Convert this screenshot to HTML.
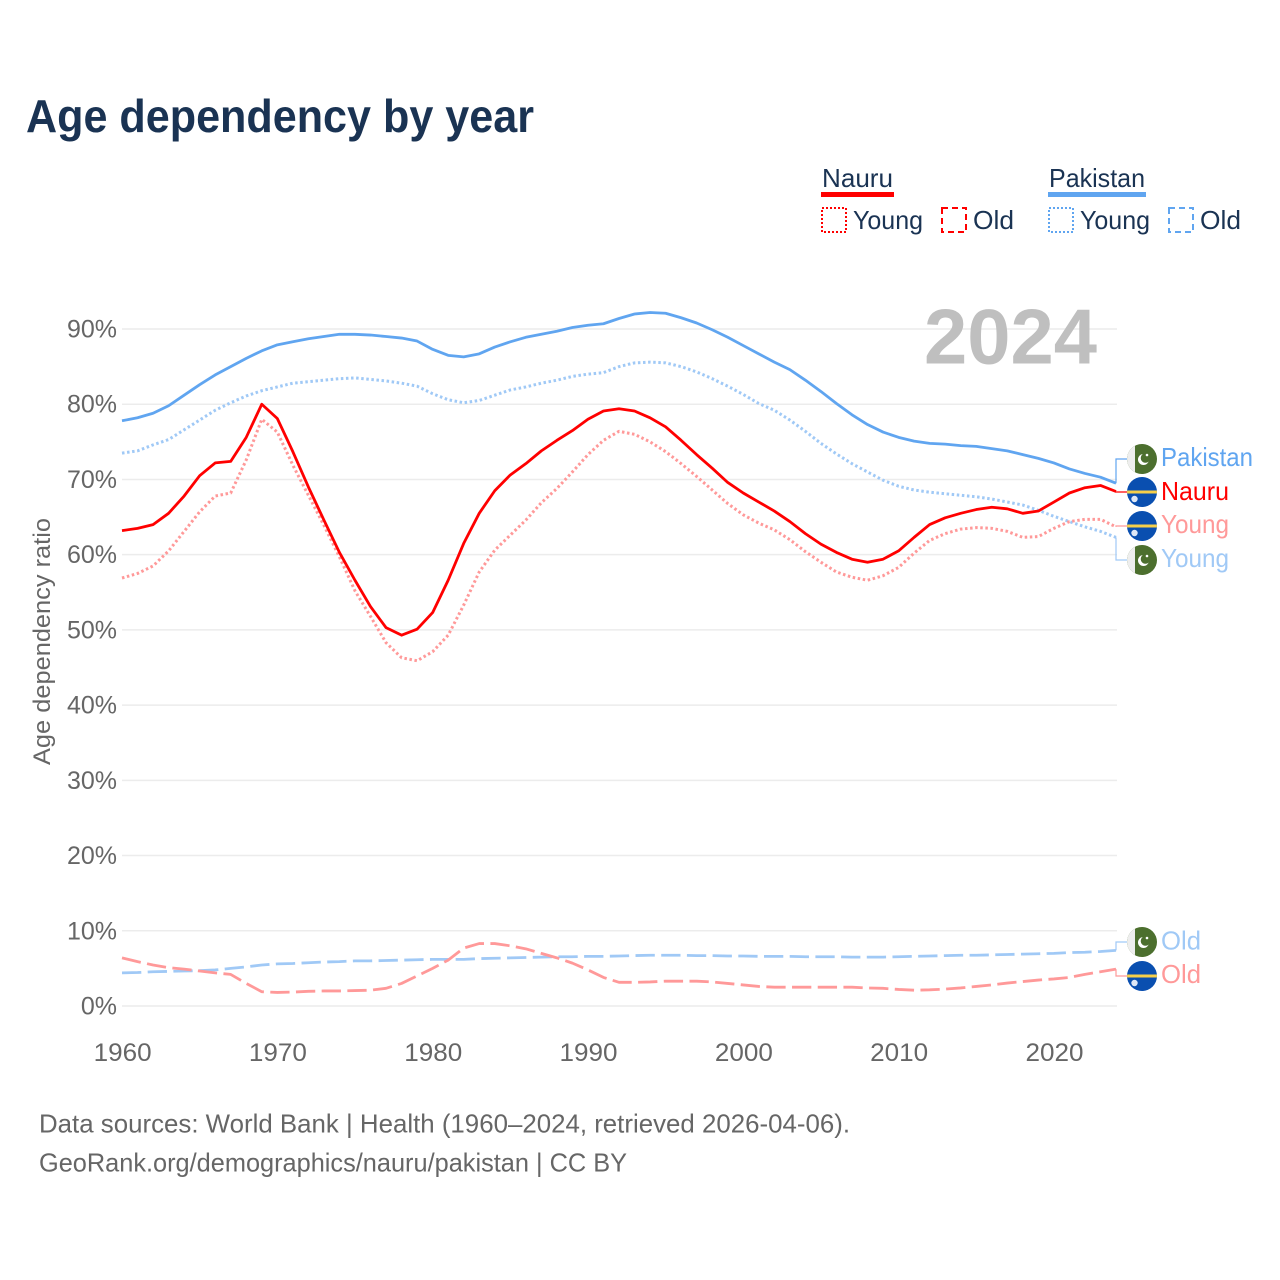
<!DOCTYPE html>
<html lang="en">
<head>
<meta charset="utf-8">
<title>Age dependency by year</title>
<style>
html,body{margin:0;padding:0;background:#fff;}
svg{display:block;font-family:"Liberation Sans",sans-serif;}
</style>
</head>
<body>
<svg id="chart" xmlns="http://www.w3.org/2000/svg" width="1280" height="1280" viewBox="0 0 1280 1280">
  <defs>
    <clipPath id="flag-clip"><circle cx="0" cy="0" r="15"/></clipPath>
    <g id="flag-pk" clip-path="url(#flag-clip)">
      <rect x="-15" y="-15" width="30" height="30" fill="#4c6f2e"/>
      <rect x="-15" y="-15" width="8" height="30" fill="#eeeeee"/>
      <circle cx="1.5" cy="0.5" r="5.5" fill="#ffffff"/>
      <circle cx="3.5" cy="-1" r="4.8" fill="#4c6f2e"/>
      <circle cx="5" cy="-4" r="1.3" fill="#ffffff"/>
    </g>
    <g id="flag-nr" clip-path="url(#flag-clip)">
      <rect x="-15" y="-15" width="30" height="30" fill="#0a4fb0"/>
      <rect x="-15" y="-1.5" width="30" height="3" fill="#f5cf4a"/>
      <circle cx="-7.5" cy="7" r="3.2" fill="#dfe8f6"/>
    </g>
  </defs>

  <text x="26" y="132" font-size="46" font-weight="700" fill="#1a3353" textLength="508" lengthAdjust="spacingAndGlyphs">Age dependency by year</text>

  <g font-size="26" fill="#1a3353">
    <text x="822" y="187" textLength="71" lengthAdjust="spacingAndGlyphs">Nauru</text>
    <rect x="821" y="192" width="73" height="5" fill="#ff0000"/>
    <text x="1049" y="187" textLength="96" lengthAdjust="spacingAndGlyphs">Pakistan</text>
    <rect x="1048" y="192" width="98" height="5" fill="#60a5f0"/>
    <rect x="822" y="208" width="24" height="24" fill="none" stroke="#ff0000" stroke-width="2" stroke-dasharray="2 2"/>
    <text x="853" y="229" textLength="70" lengthAdjust="spacingAndGlyphs">Young</text>
    <rect x="942" y="208" width="24" height="24" fill="none" stroke="#ff0000" stroke-width="2" stroke-dasharray="6 4"/>
    <text x="973" y="229" textLength="41" lengthAdjust="spacingAndGlyphs">Old</text>
    <rect x="1049" y="208" width="24" height="24" fill="none" stroke="#60a5f0" stroke-width="2" stroke-dasharray="2 2"/>
    <text x="1080" y="229" textLength="70" lengthAdjust="spacingAndGlyphs">Young</text>
    <rect x="1169" y="208" width="24" height="24" fill="none" stroke="#60a5f0" stroke-width="2" stroke-dasharray="6 4"/>
    <text x="1200" y="229" textLength="41" lengthAdjust="spacingAndGlyphs">Old</text>
  </g>

  <g id="grid"></g>
  <text x="924" y="363.5" font-size="78" font-weight="700" fill="#bfbfbf" textLength="173" lengthAdjust="spacingAndGlyphs">2024</text>
  <g id="y-ticks" font-size="25" fill="#666666" text-anchor="end"></g>
  <g id="x-ticks" font-size="25" fill="#666666" text-anchor="middle"></g>
  <text transform="translate(50,765) rotate(-90)" font-size="24" fill="#666666" textLength="247" lengthAdjust="spacingAndGlyphs">Age dependency ratio</text>

  <g id="series"></g>
  <g id="connectors"></g>

  <g font-size="26">
    <use href="#flag-pk" x="1142" y="459"/>
    <use href="#flag-nr" x="1142" y="492"/>
    <use href="#flag-nr" x="1142" y="526"/>
    <use href="#flag-pk" x="1142" y="560"/>
    <use href="#flag-pk" x="1142" y="942"/>
    <use href="#flag-nr" x="1142" y="976"/>
    <text x="1161" y="466" fill="#60a5f0" textLength="92" lengthAdjust="spacingAndGlyphs">Pakistan</text>
    <text x="1161" y="500" fill="#ff0000" textLength="68" lengthAdjust="spacingAndGlyphs">Nauru</text>
    <text x="1161" y="533" fill="#ff9999" textLength="68" lengthAdjust="spacingAndGlyphs">Young</text>
    <text x="1161" y="567" fill="#a0c9f6" textLength="68" lengthAdjust="spacingAndGlyphs">Young</text>
    <text x="1161" y="949.5" fill="#a0c9f6" textLength="40" lengthAdjust="spacingAndGlyphs">Old</text>
    <text x="1161" y="983" fill="#ff9999" textLength="40" lengthAdjust="spacingAndGlyphs">Old</text>
  </g>

  <text x="39" y="1132.5" font-size="26" fill="#666666" textLength="811" lengthAdjust="spacingAndGlyphs">Data sources: World Bank | Health (1960–2024, retrieved 2026-04-06).</text>
  <text x="39" y="1171.5" font-size="26" fill="#666666" textLength="588" lengthAdjust="spacingAndGlyphs">GeoRank.org/demographics/nauru/pakistan | CC BY</text>
</svg>
<script>
var firstYear = 1960;
var lastYear = 2024;
var yTickValues = [0, 10, 20, 30, 40, 50, 60, 70, 80, 90];
var xTickValues = [1960, 1970, 1980, 1990, 2000, 2010, 2020];

var pakistanTotal = [
  77.8,78.2,78.8,79.8,81.2,82.6,83.9,85.0,86.1,87.1,
  87.9,88.3,88.7,89.0,89.3,89.3,89.2,89.0,88.8,88.4,
  87.3,86.5,86.3,86.7,87.6,88.3,88.9,89.3,89.7,90.2,
  90.5,90.7,91.4,92.0,92.2,92.1,91.5,90.8,89.9,88.9,
  87.8,86.7,85.6,84.6,83.2,81.7,80.1,78.6,77.3,76.3,
  75.6,75.1,74.8,74.7,74.5,74.4,74.1,73.8,73.3,72.8,
  72.2,71.4,70.8,70.3,69.5];
var pakistanYoung = [
  73.5,73.8,74.6,75.3,76.6,77.9,79.2,80.2,81.1,81.8,
  82.3,82.8,83.0,83.2,83.4,83.5,83.3,83.1,82.8,82.4,
  81.4,80.6,80.2,80.5,81.2,81.9,82.3,82.8,83.2,83.7,
  84.0,84.2,85.0,85.5,85.6,85.5,85.0,84.3,83.4,82.4,
  81.3,80.1,79.2,77.9,76.4,74.8,73.4,72.1,71.0,69.9,
  69.1,68.6,68.3,68.1,67.9,67.7,67.4,67.0,66.6,65.9,
  65.1,64.4,63.7,63.1,62.3];
var pakistanOld = [
  4.4,4.45,4.55,4.6,4.65,4.7,4.8,5.0,5.2,5.45,
  5.6,5.65,5.75,5.85,5.9,6.0,6.0,6.05,6.1,6.15,
  6.2,6.2,6.2,6.3,6.35,6.4,6.45,6.5,6.55,6.55,
  6.6,6.6,6.65,6.7,6.75,6.75,6.75,6.7,6.7,6.65,
  6.65,6.6,6.6,6.6,6.55,6.55,6.55,6.5,6.5,6.5,
  6.55,6.6,6.65,6.7,6.75,6.75,6.8,6.85,6.9,6.95,
  7.0,7.1,7.15,7.25,7.4];
var nauruTotal = [
  63.2,63.5,64.0,65.5,67.8,70.5,72.2,72.4,75.6,80.0,
  78.1,73.7,69.0,64.6,60.3,56.6,53.1,50.3,49.3,50.1,
  52.3,56.6,61.5,65.5,68.5,70.6,72.1,73.8,75.2,76.5,
  78.0,79.1,79.4,79.1,78.2,77.0,75.2,73.3,71.5,69.6,
  68.2,67.0,65.8,64.4,62.8,61.4,60.3,59.4,59.0,59.4,
  60.5,62.3,64.0,64.9,65.5,66.0,66.3,66.1,65.5,65.8,
  67.0,68.2,68.9,69.2,68.4];
var nauruYoung = [
  56.9,57.5,58.5,60.5,63.1,65.7,67.8,68.2,72.6,78.0,
  76.3,71.9,67.9,63.9,59.7,55.2,51.8,48.3,46.3,45.9,
  47.1,49.3,53.3,57.7,60.6,62.6,64.6,66.9,68.8,71.0,
  73.3,75.2,76.4,76.0,75.0,73.7,72.1,70.4,68.6,66.8,
  65.3,64.2,63.3,62.0,60.4,59.0,57.7,57.0,56.6,57.2,
  58.3,60.2,61.9,62.8,63.4,63.6,63.5,63.1,62.3,62.4,
  63.5,64.4,64.7,64.7,63.7];
var nauruOld = [
  6.4,5.9,5.45,5.1,4.9,4.65,4.4,4.2,3.0,1.9,
  1.8,1.85,1.95,2.0,2.0,2.05,2.1,2.35,3.0,4.0,
  5.0,6.1,7.7,8.3,8.3,8.0,7.6,7.0,6.4,5.7,
  4.8,3.8,3.15,3.15,3.2,3.3,3.3,3.3,3.2,3.0,
  2.8,2.6,2.5,2.5,2.5,2.5,2.5,2.5,2.4,2.35,
  2.2,2.1,2.15,2.25,2.4,2.6,2.8,3.05,3.25,3.45,
  3.6,3.8,4.2,4.55,4.9];

var NS = 'http://www.w3.org/2000/svg';
function xScale(year) { return 122 + (year - firstYear) * (1116 - 122) / (lastYear - firstYear); }
function yScale(pct) { return 1006 - pct * 7.522; }

var gridGroup = document.getElementById('grid');
var yGroup = document.getElementById('y-ticks');
yTickValues.forEach(function (v) {
  var line = document.createElementNS(NS, 'line');
  
  
  line.setAttribute('x1', 122);
  line.setAttribute('x2', 1117);
  line.setAttribute('y1', yScale(v));
  line.setAttribute('y2', yScale(v));
  line.setAttribute('stroke', '#ececec');
  line.setAttribute('stroke-width', 1.5);
  gridGroup.appendChild(line);
  var label = document.createElementNS(NS, 'text');
  
  
  label.setAttribute('x', 117);
  label.setAttribute('y', yScale(v) + 8.5);
  label.textContent = v + '%';
  yGroup.appendChild(label);
});

var xGroup = document.getElementById('x-ticks');
xTickValues.forEach(function (year) {
  var label = document.createElementNS(NS, 'text');
  
  
  label.setAttribute('x', xScale(year) + 0.6);
  label.setAttribute('y', 1061);
  label.setAttribute('textLength', 58);
  label.setAttribute('lengthAdjust', 'spacingAndGlyphs');
  label.textContent = year;
  xGroup.appendChild(label);
});

var seriesGroup = document.getElementById('series');
function drawLine(values, name, color, dash, width) {
  var pts = values.map(function (v, i) {
    return xScale(firstYear + i).toFixed(2) + ',' + yScale(v).toFixed(2);
  }).join(' ');
  var line = document.createElementNS(NS, 'polyline');
  
  
  line.setAttribute('points', pts);
  line.setAttribute('fill', 'none');
  line.setAttribute('stroke', color);
  line.setAttribute('stroke-width', width);
  line.setAttribute('stroke-linejoin', 'round');
  if (dash) { line.setAttribute('stroke-dasharray', dash); }
  seriesGroup.appendChild(line);
}
drawLine(pakistanOld, 'line-pakistan-old', '#a0c9f6', '19.3 6.4', 2.8);
drawLine(nauruOld, 'line-nauru-old', '#ff9999', '19.3 6.4', 2.8);
drawLine(pakistanYoung, 'line-pakistan-young', '#a0c9f6', '2.5 2.6', 3);
drawLine(nauruYoung, 'line-nauru-young', '#ff9999', '2.5 2.6', 3);
drawLine(pakistanTotal, 'line-pakistan-total', '#60a5f0', null, 2.8);
drawLine(nauruTotal, 'line-nauru-total', '#ff0000', null, 2.8);

var connectorGroup = document.getElementById('connectors');
function drawConnector(values, labelY, name, color) {
  var y0 = yScale(values[values.length - 1]);
  var path = document.createElementNS(NS, 'polyline');
  
  
  path.setAttribute('points', '1116,' + y0.toFixed(2) + ' 1116,' + labelY + ' 1127,' + labelY);
  path.setAttribute('fill', 'none');
  path.setAttribute('stroke', color);
  path.setAttribute('stroke-width', 1.2);
  connectorGroup.appendChild(path);
}
drawConnector(pakistanTotal, 459, 'connector-pakistan-total', '#60a5f0');
drawConnector(nauruTotal, 492, 'connector-nauru-total', '#ff0000');
drawConnector(nauruYoung, 526, 'connector-nauru-young', '#ff9999');
drawConnector(pakistanYoung, 560, 'connector-pakistan-young', '#a0c9f6');
drawConnector(pakistanOld, 942, 'connector-pakistan-old', '#a0c9f6');
drawConnector(nauruOld, 976, 'connector-nauru-old', '#ff9999');
</script>
</body>
</html>
